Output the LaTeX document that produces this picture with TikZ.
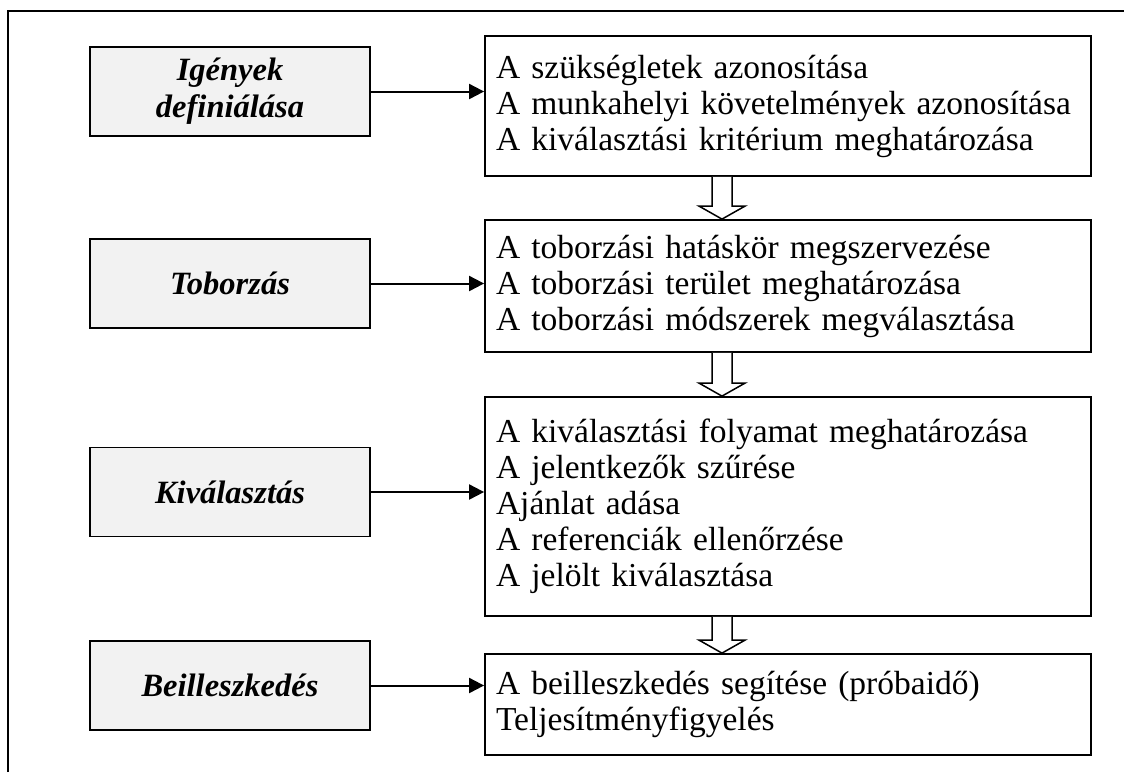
\documentclass[tikz,border=0pt]{standalone}
\usepackage{fontspec}
\setmainfont{Liberation Serif}
\usetikzlibrary{arrows.meta,calc}
\definecolor{stagefill}{HTML}{F2F2F2}
\begin{document}
\begin{tikzpicture}[x=1pt,y=-1pt,
  stage/.style={draw, line width=1.8pt, fill=stagefill, minimum width=280pt,
    minimum height=89pt, inner sep=0pt, align=center,
    font=\fontsize{32.5}{37}\selectfont\bfseries\itshape},
  tasks/.style={draw, line width=1.8pt, fill=white, minimum width=606pt,
    text width=584pt, inner xsep=11pt, inner ysep=0pt, align=left,
    font=\fontsize{33.5}{36}\selectfont},
  link/.style={-{Triangle[length=15pt,width=15pt]}, line width=2pt},
  hollow/.style={line width=1.5pt, fill=white, line join=miter}]
\useasboundingbox (0,0) rectangle (1124,772);

% open frame: top and left edges only
\draw[line width=2pt] (8,772) -- (8,11) -- (1124,11);

% stages
\node[stage] (s1) at (230,91.5) {Igények\\definiálása};
\node[stage] (s2) at (230,283.5) {Toborzás};
\node[stage] (s3) at (230,492) {Kiválasztás};
\node[stage] (s4) at (230,685.5) {Beilleszkedés};

% task lists
\node[tasks, minimum height=140pt] (r1) at (788,106) {A szükségletek azonosítása\\
A munkahelyi követelmények azonosítása\\
A kiválasztási kritérium meghatározása};
\node[tasks, minimum height=132pt] (r2) at (788,286) {A toborzási hatáskör megszervezése\\
A toborzási terület meghatározása\\
A toborzási módszerek megválasztása};
\node[tasks, minimum height=219pt] (r3) at (788,506.5) {A kiválasztási folyamat meghatározása\\
A jelentkezők szűrése\\
Ajánlat adása\\
A referenciák ellenőrzése\\
A jelölt kiválasztása};
\node[tasks, minimum height=101pt] (r4) at (788,704.5) {A beilleszkedés segítése (próbaidő)\\
Teljesítményfigyelés};

% stage -> tasks
\foreach \i in {1,...,4}
  \draw[link] (s\i.east) -- (s\i.east -| r\i.west);

% hollow arrows between task lists
\def\ax{722pt}
\newcommand\hollowdown[2]{%
  \draw[hollow] let \p1=(#1.south), \p2=(#2.north) in
    (\ax-10pt,\y1) -- (\ax-10pt,\y2+13pt) -- (\ax-23pt,\y2+13pt) --
    (\ax,\y2) -- (\ax+23pt,\y2+13pt) -- (\ax+10pt,\y2+13pt) -- (\ax+10pt,\y1);}
\hollowdown{r1}{r2}
\hollowdown{r2}{r3}
\hollowdown{r3}{r4}
\end{tikzpicture}
\end{document}
